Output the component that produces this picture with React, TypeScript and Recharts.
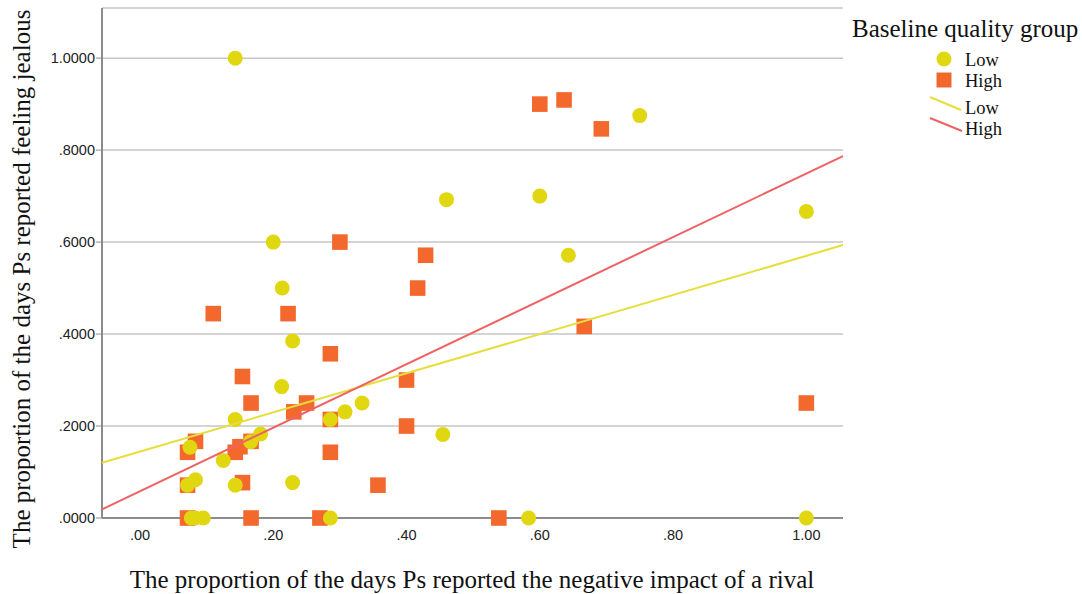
import React from 'react';
import { CartesianGrid, Scatter, ScatterChart, XAxis, YAxis } from 'recharts';

// Baseline quality group: Low (circles) and High (squares)
const lowGroup = [
    { x: 0.1429, y: 1.0 },
    { x: 0.2, y: 0.6 },
    { x: 0.2135, y: 0.5 },
    { x: 0.229, y: 0.385 },
    { x: 0.2126, y: 0.2857 },
    { x: 0.1429, y: 0.2143 },
    { x: 0.181, y: 0.1826 },
    { x: 0.166, y: 0.166 },
    { x: 0.125, y: 0.125 },
    { x: 0.075, y: 0.154 },
    { x: 0.0833, y: 0.0833 },
    { x: 0.0714, y: 0.0714 },
    { x: 0.1429, y: 0.0714 },
    { x: 0.229, y: 0.077 },
    { x: 0.077, y: 0 },
    { x: 0.083, y: 0 },
    { x: 0.095, y: 0 },
    { x: 0.2857, y: 0.2143 },
    { x: 0.2857, y: 0 },
    { x: 0.3077, y: 0.2308 },
    { x: 0.3333, y: 0.25 },
    { x: 0.4545, y: 0.1818 },
    { x: 0.46, y: 0.6923 },
    { x: 0.6, y: 0.7 },
    { x: 0.6429, y: 0.5714 },
    { x: 0.75, y: 0.875 },
    { x: 1.0, y: 0.6667 },
    { x: 1.0, y: 0 },
    { x: 0.5833, y: 0 },
];

const highGroup = [
    { x: 0.11, y: 0.4444 },
    { x: 0.2222, y: 0.4444 },
    { x: 0.4167, y: 0.5 },
    { x: 0.2857, y: 0.3571 },
    { x: 0.1538, y: 0.3077 },
    { x: 0.1667, y: 0.25 },
    { x: 0.25, y: 0.25 },
    { x: 0.2308, y: 0.2308 },
    { x: 0.2857, y: 0.2143 },
    { x: 0.4, y: 0.3 },
    { x: 0.4, y: 0.2 },
    { x: 0.0833, y: 0.1667 },
    { x: 0.0714, y: 0.1429 },
    { x: 0.1429, y: 0.1429 },
    { x: 0.15, y: 0.155 },
    { x: 0.1667, y: 0.1667 },
    { x: 0.2857, y: 0.1429 },
    { x: 0.0714, y: 0.0714 },
    { x: 0.1538, y: 0.0769 },
    { x: 0.3571, y: 0.0714 },
    { x: 0.0714, y: 0 },
    { x: 0.1667, y: 0 },
    { x: 0.27, y: 0 },
    { x: 0.3, y: 0.6 },
    { x: 0.4286, y: 0.5714 },
    { x: 0.6, y: 0.9 },
    { x: 0.6364, y: 0.9091 },
    { x: 0.6923, y: 0.8462 },
    { x: 0.6667, y: 0.4167 },
    { x: 1.0, y: 0.25 },
    { x: 0.5385, y: 0 },
];

// fit lines, read at the edges of the plot
const lowFit = [
    { x: -0.057, y: 0.1202 },
    { x: 1.055, y: 0.5935 },
];
const highFit = [
    { x: -0.057, y: 0.0188 },
    { x: 1.055, y: 0.787 },
];

const xTicks = [0, 0.2, 0.4, 0.6, 0.8, 1.0];
const yTicks = [0, 0.2, 0.4, 0.6, 0.8, 1.0];

const LOW_COLOR = '#E1D711';
const HIGH_COLOR = '#F3692D';
const LOW_LINE = '#E6DE3A';
const HIGH_LINE = '#EF6264';

const serif = '"Liberation Serif", "Times New Roman", serif';
const sans = '"Liberation Sans", Arial, sans-serif';

const fmtX = (v: number) => v.toFixed(2).replace(/^0/, '');
const fmtY = (v: number) => v.toFixed(4).replace(/^0/, '');

const Circle = (p: any) => <circle cx={p.cx} cy={p.cy} r={7.5} fill={LOW_COLOR} />;
const Square = (p: any) => <rect x={p.cx - 7.8} y={p.cy - 7.8} width={15.6} height={15.6} fill={HIGH_COLOR} />;
const Nothing = () => <g />;

const App = () => {
    return (
        <div style={{ position: 'absolute', left: 0, top: 0, width: 1082, height: 594, background: '#fff', overflow: 'hidden' }}>
            <ScatterChart width={1082} height={594} margin={{ top: 8, right: 239, left: 0, bottom: 0 }}>
                <CartesianGrid horizontal vertical={false} stroke="#c6c6c6" strokeWidth={1.5} />
                <XAxis
                    type="number"
                    dataKey="x"
                    domain={[-0.057, 1.055]}
                    ticks={xTicks}
                    tickFormatter={fmtX}
                    height={76}
                    tickLine={false}
                    tickSize={0}
                    tickMargin={12}
                    axisLine={{ stroke: '#8c8c8c', strokeWidth: 2 }}
                    tick={{ fontFamily: sans, fontSize: 14.5, fill: '#222' }}
                />
                <YAxis
                    type="number"
                    dataKey="y"
                    domain={[0, 1.109]}
                    ticks={yTicks}
                    tickFormatter={fmtY}
                    width={102}
                    tickSize={6}
                    tickMargin={1}
                    tickLine={{ stroke: '#8c8c8c' }}
                    axisLine={{ stroke: '#8c8c8c', strokeWidth: 2 }}
                    tick={{ fontFamily: sans, fontSize: 14.5, fill: '#222' }}
                />
                <Scatter data={highGroup} shape={Square} isAnimationActive={false} />
                <Scatter data={lowGroup} shape={Circle} isAnimationActive={false} />
                <Scatter data={lowFit} shape={Nothing} line={{ stroke: LOW_LINE, strokeWidth: 2 }} isAnimationActive={false} />
                <Scatter data={highFit} shape={Nothing} line={{ stroke: HIGH_LINE, strokeWidth: 2 }} isAnimationActive={false} />
            </ScatterChart>

            {/* axis titles */}
            <div
                style={{
                    position: 'absolute',
                    left: 472,
                    top: 580,
                    transform: 'translate(-50%, -50%)',
                    whiteSpace: 'nowrap',
                    fontFamily: serif,
                    fontSize: 25,
                    color: '#111',
                }}
            >
                The proportion of the days Ps reported the negative impact of a rival
            </div>
            <div
                style={{
                    position: 'absolute',
                    left: 22,
                    top: 279,
                    transform: 'translate(-50%, -50%) rotate(-90deg)',
                    whiteSpace: 'nowrap',
                    fontFamily: serif,
                    fontSize: 25,
                    color: '#111',
                }}
            >
                The proportion of the days Ps reported feeling jealous
            </div>

            {/* legend */}
            <div
                style={{
                    position: 'absolute',
                    left: 852,
                    top: 28.5,
                    transform: 'translateY(-50%)',
                    fontFamily: serif,
                    fontSize: 25,
                    color: '#111',
                    whiteSpace: 'nowrap',
                }}
            >
                Baseline quality group
            </div>
            <svg style={{ position: 'absolute', left: 920, top: 48 }} width={50} height={90}>
                <circle cx={24} cy={11} r={7.5} fill={LOW_COLOR} />
                <rect x={16.5} y={24.5} width={15} height={15} fill={HIGH_COLOR} />
                <line x1={10} y1={49} x2={41} y2={62} stroke={LOW_LINE} strokeWidth={2} />
                <line x1={10} y1={70} x2={42} y2={83} stroke={HIGH_LINE} strokeWidth={2} />
            </svg>
            {[
                { label: 'Low', top: 60 },
                { label: 'High', top: 81 },
                { label: 'Low', top: 108 },
                { label: 'High', top: 129 },
            ].map((d, i) => (
                <div
                    key={i}
                    style={{
                        position: 'absolute',
                        left: 965,
                        top: d.top,
                        transform: 'translateY(-50%)',
                        fontFamily: serif,
                        fontSize: 18.5,
                        color: '#111',
                        whiteSpace: 'nowrap',
                    }}
                >
                    {d.label}
                </div>
            ))}
        </div>
    );
};

export default App;
